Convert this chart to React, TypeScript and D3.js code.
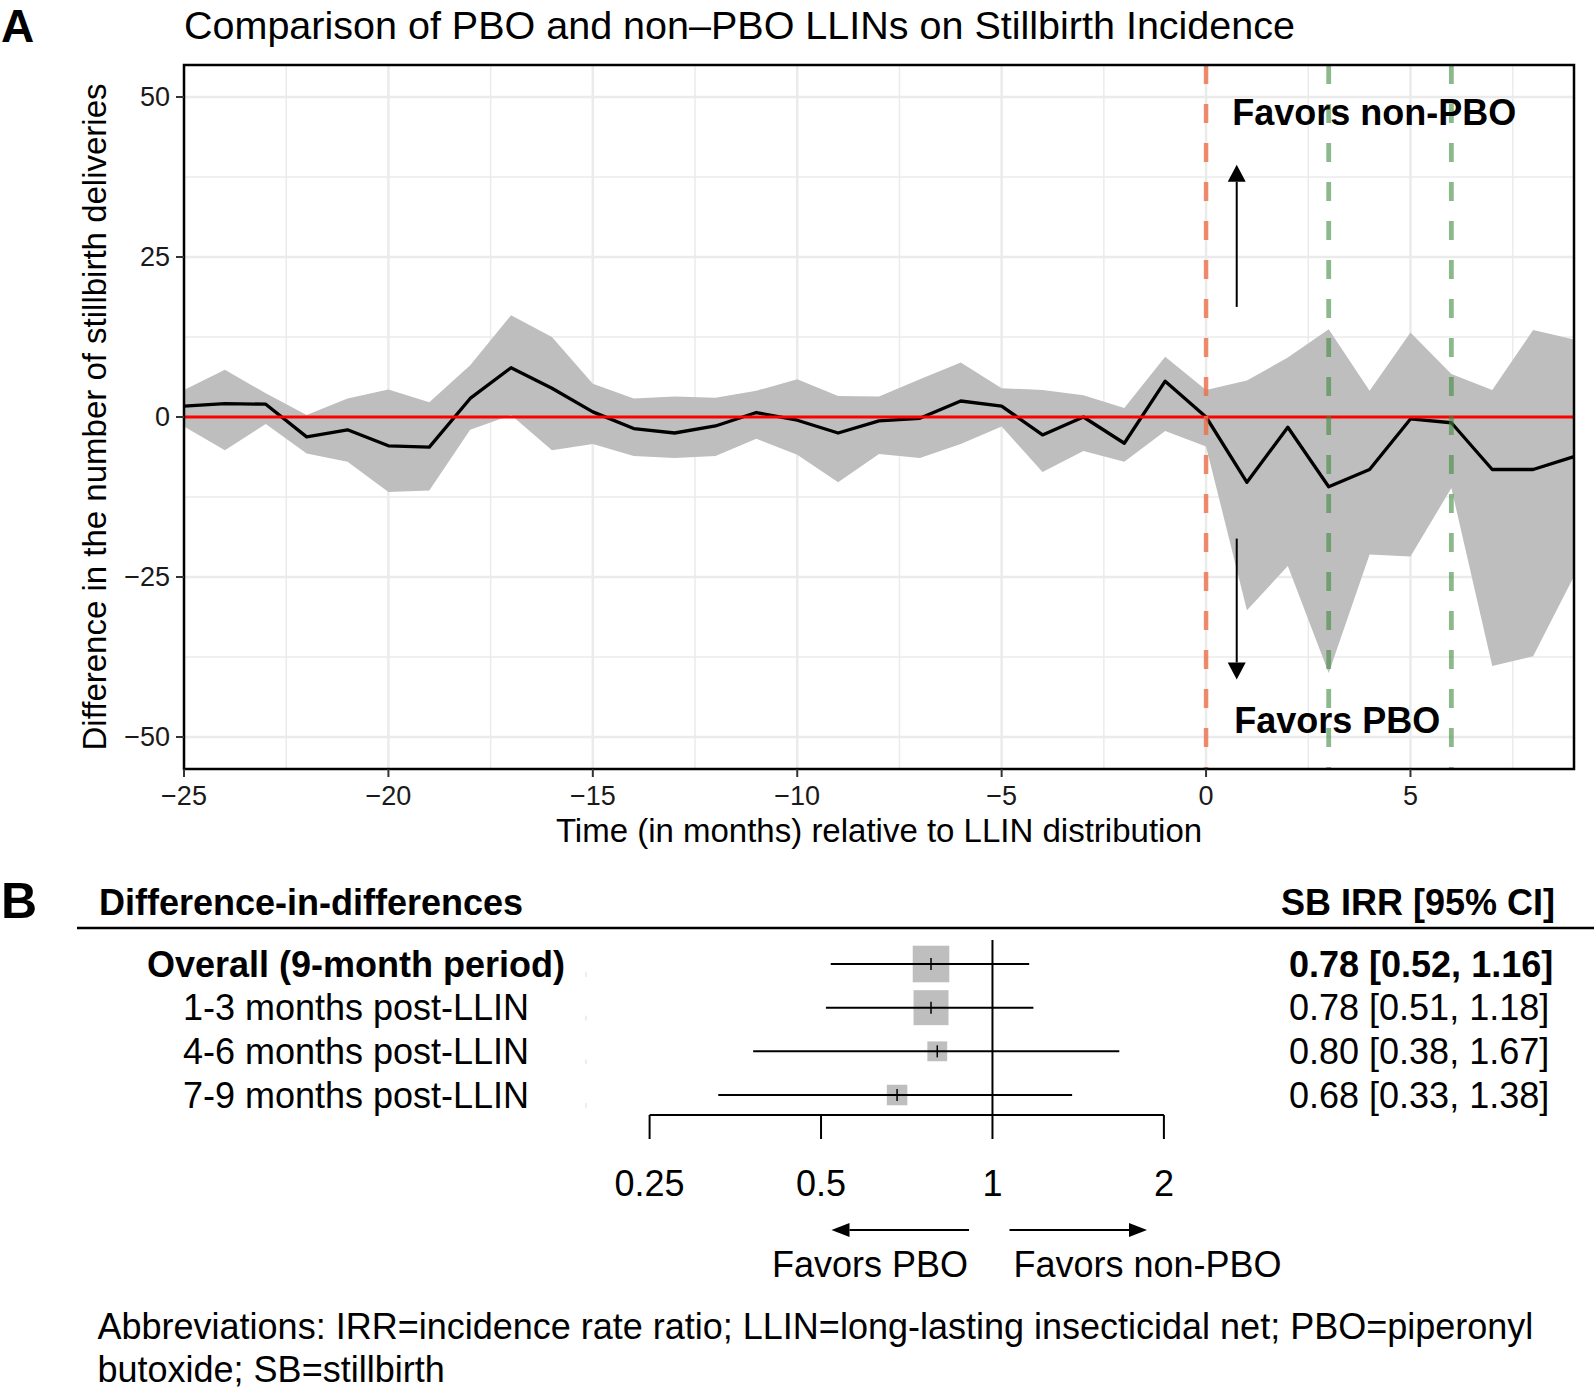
import React, { useEffect } from 'react';
import * as d3 from 'd3';

// ---------- Panel A data ----------
const months = [-25, -24, -23, -22, -21, -20, -19, -18, -17, -16, -15, -14, -13, -12, -11, -10, -9, -8, -7, -6, -5, -4, -3, -2, -1, 0, 1, 2, 3, 4, 5, 6, 7, 8, 9];
const estimate = [1.7, 2.1, 2.0, -3.1, -2.0, -4.5, -4.7, 2.9, 7.7, 4.5, 0.8, -1.8, -2.5, -1.4, 0.7, -0.5, -2.5, -0.6, -0.2, 2.5, 1.7, -2.8, 0.0, -4.1, 5.6, 0.0, -10.2, -1.6, -10.9, -8.2, -0.3, -0.9, -8.2, -8.2, -6.2];
const lower = [-1.5, -5.2, -1.1, -5.7, -7.0, -11.7, -11.5, -2.0, 0.3, -5.2, -4.2, -6.1, -6.4, -6.1, -3.4, -5.9, -10.2, -5.8, -6.4, -4.2, -1.5, -8.6, -5.3, -7.0, -2.2, -4.6, -30.2, -23.3, -40.0, -21.5, -21.8, -11.1, -38.9, -37.4, -24.9];
const upper = [4.2, 7.4, 3.7, 0.3, 2.9, 4.3, 2.3, 8.1, 15.9, 12.5, 5.2, 2.9, 3.2, 3.0, 4.1, 5.9, 3.3, 3.2, 5.9, 8.5, 4.5, 4.2, 3.4, 1.4, 9.4, 4.2, 5.7, 9.3, 13.7, 4.1, 13.2, 6.7, 4.2, 13.6, 12.1];
const xTicks = [-25, -20, -15, -10, -5, 0, 5];
const xMinor = [-22.5, -17.5, -12.5, -7.5, -2.5, 2.5, 7.5];
const yTicks = [-50, -25, 0, 25, 50];
const yMinor = [-37.5, -12.5, 12.5, 37.5];
const distributionMonth = [0];
const periodMonths = [3, 6];

// ---------- Panel B data ----------
const subgroups = ['Overall (9-month period)', '1-3 months post-LLIN', '4-6 months post-LLIN', '7-9 months post-LLIN'];
const irr = [0.78, 0.78, 0.80, 0.68];
const irrLo = [0.52, 0.51, 0.38, 0.33];
const irrHi = [1.16, 1.18, 1.67, 1.38];
const irrTicks = [0.25, 0.5, 1, 2];
const irrTickLabels = ['0.25', '0.5', '1', '2'];

const FONT = "'Liberation Sans', Arial, Helvetica, sans-serif";

function Arrow({ x1, y1, x2, y2, head = 17, half = 9, width = 2 }: any) {
  const ang = Math.atan2(y2 - y1, x2 - x1);
  const bx = x2 - head * Math.cos(ang);
  const by = y2 - head * Math.sin(ang);
  const px = -Math.sin(ang) * half;
  const py = Math.cos(ang) * half;
  return (
    <g>
      <line x1={x1} y1={y1} x2={bx} y2={by} stroke="#000" strokeWidth={width} />
      <polygon points={`${x2},${y2} ${bx + px},${by + py} ${bx - px},${by - py}`} fill="#000" />
    </g>
  );
}

export default function App() {
  useEffect(() => {
    document.body.style.margin = '0';
  }, []);

  // Panel A scales
  const left = 184, right = 1574, top = 65, bottom = 769;
  const x = d3.scaleLinear().domain([-25, 9]).range([left, right]);
  const y = d3.scaleLinear().domain([-55, 55]).range([bottom, top]);
  const rows = months.map((m, i) => ({ m, est: estimate[i], lo: lower[i], hi: upper[i] }));
  const area = d3.area<any>().x(d => x(d.m)).y0(d => y(d.lo)).y1(d => y(d.hi));
  const line = d3.line<any>().x(d => x(d.m)).y(d => y(d.est));

  // Panel B scales
  const fx = d3.scaleLog().base(2).domain([0.25, 2]).range([649.6, 1163.9]);
  const rowY = d3.scalePoint().domain(subgroups).range([964, 1095]);
  const axisY = 1115;
  const boxK = 29.35;

  const fmt = d3.format('.2f');

  return (
    <svg width={1594} height={1391} style={{ position: 'absolute', left: 0, top: 0, background: '#fff' }} fontFamily={FONT}>
      <rect x={0} y={0} width={1594} height={1391} fill="#fff" />
      {/* ===== Panel A ===== */}
      <text x={1} y={42} fontSize={46} fontWeight="bold">A</text>
      <text x={left} y={39} fontSize={39.5}>Comparison of PBO and non–PBO LLINs on Stillbirth Incidence</text>

      <g>
        {xMinor.map(v => <line key={'xm' + v} x1={x(v)} x2={x(v)} y1={top} y2={bottom} stroke="#EBEBEB" strokeWidth={1.5} />)}
        {yMinor.map(v => <line key={'ym' + v} x1={left} x2={right} y1={y(v)} y2={y(v)} stroke="#EBEBEB" strokeWidth={1.5} />)}
        {xTicks.map(v => <line key={'xg' + v} x1={x(v)} x2={x(v)} y1={top} y2={bottom} stroke="#EBEBEB" strokeWidth={2.5} />)}
        {yTicks.map(v => <line key={'yg' + v} x1={left} x2={right} y1={y(v)} y2={y(v)} stroke="#EBEBEB" strokeWidth={2.5} />)}
      </g>

      <path d={area(rows) || ''} fill="#bebebe" />
      <path d={line(rows) || ''} fill="none" stroke="#000" strokeWidth={3.3} strokeLinejoin="round" />
      <line x1={left} x2={right} y1={y(0)} y2={y(0)} stroke="#FF0000" strokeWidth={3} />

      {distributionMonth.map(v => (
        <line key={'d' + v} x1={x(v)} x2={x(v)} y1={top} y2={bottom} stroke="#EC6F4A" strokeOpacity={0.8} strokeWidth={4.5} strokeDasharray="19 20" />
      ))}
      {periodMonths.map(v => (
        <line key={'p' + v} x1={x(v)} x2={x(v)} y1={top} y2={bottom} stroke="#3d8a3d" strokeOpacity={0.6} strokeWidth={4.8} strokeDasharray="19 20" />
      ))}

      <Arrow x1={x(0.75)} y1={y(17.2)} x2={x(0.75)} y2={y(39.4)} />
      <Arrow x1={x(0.75)} y1={y(-19)} x2={x(0.75)} y2={y(-41)} />
      <text x={x(0.64)} y={y(45.6)} fontSize={36} fontWeight="bold">Favors non-PBO</text>
      <text x={x(0.69)} y={y(-49.4)} fontSize={36} fontWeight="bold">Favors PBO</text>

      <rect x={left} y={top} width={right - left} height={bottom - top} fill="none" stroke="#000" strokeWidth={2.5} />

      {/* axes */}
      {yTicks.map(v => (
        <g key={'yt' + v}>
          <line x1={left - 8} x2={left} y1={y(v)} y2={y(v)} stroke="#333" strokeWidth={2} />
          <text x={left - 14} y={y(v)} dy="0.35em" textAnchor="end" fontSize={27} fill="#1a1a1a">{v < 0 ? '−' + Math.abs(v) : v}</text>
        </g>
      ))}
      {xTicks.map(v => (
        <g key={'xt' + v}>
          <line x1={x(v)} x2={x(v)} y1={bottom} y2={bottom + 8} stroke="#333" strokeWidth={2} />
          <text x={x(v)} y={805} textAnchor="middle" fontSize={27} fill="#1a1a1a">{v < 0 ? '−' + Math.abs(v) : v}</text>
        </g>
      ))}
      <text x={(left + right) / 2} y={842} textAnchor="middle" fontSize={33}>Time (in months) relative to LLIN distribution</text>
      <text transform={`translate(106, ${(top + bottom) / 2}) rotate(-90)`} textAnchor="middle" fontSize={33}>Difference in the number of stillbirth deliveries</text>

      {/* ===== Panel B ===== */}
      <text x={1} y={918} fontSize={50} fontWeight="bold">B</text>
      <text x={99} y={915} fontSize={36} fontWeight="bold">Difference-in-differences</text>
      <text x={1555} y={915} fontSize={36} fontWeight="bold" textAnchor="end">SB IRR [95% CI]</text>
      <line x1={77} x2={1594} y1={928} y2={928} stroke="#000" strokeWidth={2.5} />

      {subgroups.map((s, i) => {
        const cy = rowY(s) as number;
        const bold = i === 0;
        const size = boxK / Math.log(irrHi[i] / irrLo[i]);
        return (
          <g key={s}>
            <text x={356} y={cy} dy="0.35em" textAnchor="middle" fontSize={36} fontWeight={bold ? 'bold' : 'normal'}>{s}</text>
            <line x1={586} x2={586} y1={cy + 8} y2={cy + 13} stroke="#ddd" strokeWidth={1} />
            <rect x={fx(irr[i]) - size / 2} y={cy - size / 2} width={size} height={size} fill="#bebebe" />
            <line x1={fx(irrLo[i])} x2={fx(irrHi[i])} y1={cy} y2={cy} stroke="#000" strokeWidth={2} />
            <line x1={fx(irr[i])} x2={fx(irr[i])} y1={cy - 6} y2={cy + 6} stroke="#000" strokeWidth={1.5} />
            <text x={1289} y={cy} dy="0.35em" fontSize={36} fontWeight={bold ? 'bold' : 'normal'}>{`${fmt(irr[i])} [${fmt(irrLo[i])}, ${fmt(irrHi[i])}]`}</text>
          </g>
        );
      })}
      <line x1={fx(1)} x2={fx(1)} y1={940} y2={axisY} stroke="#000" strokeWidth={2} />
      <line x1={fx(0.25)} x2={fx(2)} y1={axisY} y2={axisY} stroke="#000" strokeWidth={2} />
      {irrTicks.map((v, i) => (
        <g key={'ft' + v}>
          <line x1={fx(v)} x2={fx(v)} y1={axisY} y2={axisY + 24} stroke="#000" strokeWidth={2} />
          <text x={fx(v)} y={1196} textAnchor="middle" fontSize={36}>{irrTickLabels[i]}</text>
        </g>
      ))}
      <Arrow x1={969} y1={1230} x2={831.5} y2={1230} head={18} half={7} width={1.8} />
      <Arrow x1={1009.5} y1={1230} x2={1147} y2={1230} head={18} half={7} width={1.8} />
      <text x={968} y={1277} textAnchor="end" fontSize={36}>Favors PBO</text>
      <text x={1013.5} y={1277} fontSize={36}>Favors non-PBO</text>

      <text x={97.5} y={1339} fontSize={36}>Abbreviations: IRR=incidence rate ratio; LLIN=long-lasting insecticidal net; PBO=piperonyl</text>
      <text x={97.5} y={1382} fontSize={36}>butoxide; SB=stillbirth</text>
    </svg>
  );
}
